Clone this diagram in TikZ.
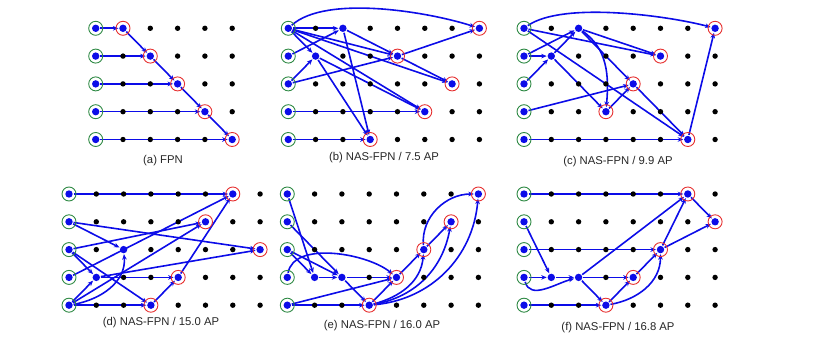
\documentclass[tikz,border=0pt]{standalone}
\usepackage{fontspec}
\setmainfont{Liberation Sans}
\usetikzlibrary{arrows.meta, positioning, calc}
\definecolor{cblue}{HTML}{0C0CE8}
\definecolor{cgreen}{HTML}{2F8A45}
\definecolor{cred}{HTML}{E63030}
\tikzset{
  every picture/.style={line width=1.2pt},
  gridpt/.style={circle, inner sep=0pt, minimum size=8pt},
  arrow/.style={-{Stealth[length=5.5pt, width=4.6pt]}, draw=cblue, line width=1.6pt},
  inring/.style={draw=cgreen, line width=0.9pt},
  outring/.style={draw=cred, line width=0.9pt},
  caption/.style={font=\fontsize{11.3}{13}\selectfont, text=black!85},
}
% name, x of first column, y of first row, last column
\newcommand{\gridpanel}[4]{%
  \foreach \c in {0,...,#4}
    \foreach \r in {0,...,4}
      \node[gridpt] (#1-\c-\r) at ({#2+27.3*\c}, {-#3-27.8*\r}) {};
}
\newcommand{\griddots}[2]{%
  \foreach \c in {0,...,#2}
    \foreach \r in {0,...,4}
      \fill[black] (#1-\c-\r) circle (2.7pt);
  \foreach \r in {0,...,4} {
    \fill[cblue] (#1-0-\r) circle (3.7pt);
    \draw[inring] (#1-0-\r) circle (7pt);
  }
}
\newcommand{\outnodes}[2]{%
  \foreach \n in {#2} {
    \fill[cblue] (#1-\n) circle (3.7pt);
    \draw[outring] (#1-\n) circle (7pt);
  }
}
\newcommand{\midnodes}[2]{%
  \foreach \n in {#2}
    \fill[cblue] (#1-\n) circle (3.7pt);
}

\begin{document}
\begin{tikzpicture}[x=1pt, y=1pt]
  \useasboundingbox (0,0) rectangle (820,-344);

  \gridpanel{a}{95.7}{28.3}{5}
  \gridpanel{b}{288.3}{28.3}{7}
  \gridpanel{c}{524}{28.3}{7}
  \gridpanel{d}{69}{194}{7}
  \gridpanel{e}{287.3}{194}{7}
  \gridpanel{f}{524}{194}{7}

  % (a) FPN
  \foreach \s/\t in {0-0/1-0, 0-1/2-1, 0-2/3-2, 0-3/4-3, 0-4/5-4,
                     1-0/2-1, 2-1/3-2, 3-2/4-3, 4-3/5-4}
    \draw[arrow] (a-\s) -- (a-\t);

  % (b) 7.5 AP
  \foreach \s/\t in {0-0/2-0, 0-1/2-0, 0-0/1-1, 0-2/1-1, 0-0/4-1, 2-0/4-1,
                     0-2/4-1, 0-0/6-2, 4-1/6-2, 4-1/7-0, 0-0/5-3, 1-1/5-3,
                     0-3/5-3, 2-0/3-4, 1-1/3-4, 0-4/3-4}
    \draw[arrow] (b-\s) -- (b-\t);
  \draw[arrow] (b-0-0) to[out=42, in=162, looseness=0.65] (b-7-0);

  % (c) 9.9 AP
  \foreach \s/\t in {0-0/5-1, 2-0/5-1, 0-1/1-1, 0-1/2-0, 0-2/1-1, 1-1/2-0,
                     1-1/3-3, 0-0/6-4, 2-0/4-2, 4-2/6-4, 0-3/4-2, 3-3/4-2,
                     0-4/6-4, 6-4/7-0}
    \draw[arrow] (c-\s) -- (c-\t);
  \draw[arrow] (c-0-0) to[out=35, in=165, looseness=0.6] (c-7-0);
  \draw[arrow] (c-2-0) to[out=-35, in=85] (c-3-3);

  % (d) 15.0 AP
  \foreach \s/\t in {0-0/6-0, 0-1/2-2, 0-1/7-2, 0-2/5-1, 0-2/1-3, 0-2/3-4,
                     0-3/6-0, 1-3/4-3, 1-3/7-2, 0-4/1-3, 0-4/3-4, 0-4/5-1,
                     3-4/4-3, 4-3/6-0}
    \draw[arrow] (d-\s) -- (d-\t);
  \draw[arrow] (d-0-4) to[out=10, in=-85] (d-2-2);

  % (e) 16.0 AP
  \foreach \s/\t in {0-0/1-3, 0-1/2-3, 0-2/1-3, 0-2/2-3, 1-3/2-3, 2-3/4-3,
                     2-3/3-4, 0-4/4-3, 0-4/3-4, 3-4/4-3, 4-3/5-2, 5-2/6-1}
    \draw[arrow] (e-\s) -- (e-\t);
  \draw[arrow] (e-0-3) to[out=80, in=140, looseness=0.8] (e-4-3);
  \draw[arrow] (e-3-4) to[out=15, in=-95] (e-5-2);
  \draw[arrow] (e-3-4) to[out=10, in=-100] (e-6-1);
  \draw[arrow] (e-3-4) to[out=5, in=-95] (e-7-0);
  \draw[arrow] (e-5-2) to[out=95, in=180] (e-7-0);

  % (f) 16.8 AP
  \foreach \s/\t in {0-0/6-0, 0-1/1-3, 0-2/5-2, 0-3/1-3, 1-3/2-3, 2-3/4-3,
                     2-3/6-0, 2-3/3-4, 0-4/3-4, 3-4/4-3, 4-3/5-2, 5-2/6-0,
                     6-0/7-1, 5-2/7-1}
    \draw[arrow] (f-\s) -- (f-\t);
  \draw[arrow] (f-0-3) to[out=-75, in=-165] (f-2-3);
  \draw[arrow] (f-3-4) to[out=10, in=-90] (f-5-2);

  % dots and rings on top
  \griddots{a}{5}
  \griddots{b}{7}
  \griddots{c}{7}
  \griddots{d}{7}
  \griddots{e}{7}
  \griddots{f}{7}
  \outnodes{a}{1-0, 2-1, 3-2, 4-3, 5-4}
  \outnodes{b}{7-0, 4-1, 6-2, 5-3, 3-4}
  \midnodes{b}{2-0, 1-1}
  \outnodes{c}{7-0, 5-1, 4-2, 3-3, 6-4}
  \midnodes{c}{2-0, 1-1}
  \outnodes{d}{6-0, 5-1, 7-2, 4-3, 3-4}
  \midnodes{d}{2-2, 1-3}
  \outnodes{e}{7-0, 6-1, 5-2, 4-3, 3-4}
  \midnodes{e}{1-3, 2-3}
  \outnodes{f}{6-0, 7-1, 5-2, 4-3, 3-4}
  \midnodes{f}{1-3, 2-3}

  \node[caption] (capa) at (163,-161) {(a) FPN};
  \node[caption] (capb) at (384,-158) {(b) NAS-FPN / 7.5 AP};
  \node[caption] (capc) at (618,-162) {(c) NAS-FPN / 9.9 AP};
  \node[caption] (capd) at (161,-323) {(d) NAS-FPN / 15.0 AP};
  \node[caption] (cape) at (382,-326) {(e) NAS-FPN / 16.0 AP};
  \node[caption] (capf) at (618,-328) {(f) NAS-FPN / 16.8 AP};
\end{tikzpicture}
\end{document}
